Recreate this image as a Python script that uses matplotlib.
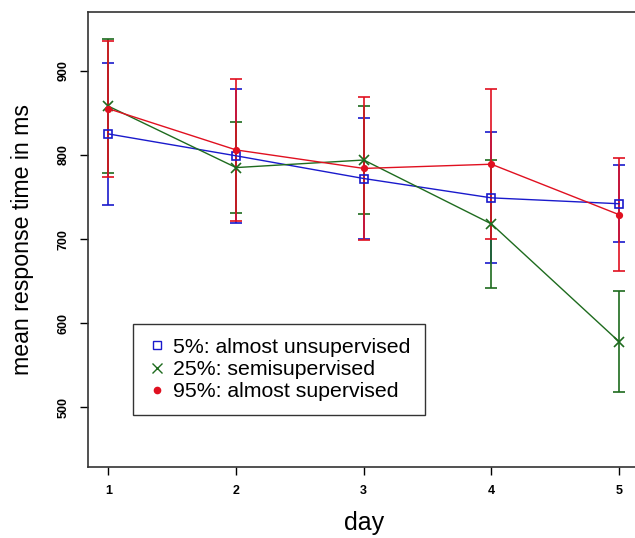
import matplotlib
matplotlib.use("Agg")
import matplotlib.pyplot as plt
from matplotlib.lines import Line2D

plt.rcParams['font.family'] = ['Liberation Sans', 'DejaVu Sans']

# dias e medias (ms) por grupo
days = [1, 2, 3, 4, 5]
labels = ["5%: almost unsupervised", "25%: semisupervised", "95%: almost supervised"]

mean_5 = [825, 799, 772, 749, 742]
err_5 = [84, 80, 72, 78, 46]

mean_25 = [858, 785, 794, 718, 578]
err_25 = [80, 54, 64, 76, 60]

mean_95 = [855, 806, 784, 789, 729]
err_95 = [81, 84, 85, 89, 67]

fig = plt.figure(figsize=(6.35, 5.38), dpi=100)
ax = fig.add_axes([0.1386, 0.132, 0.8685, 0.8457])

series = [
    (mean_5, err_5, "#1a1acc", "s", "none", 6),
    (mean_25, err_25, "#1e6b1e", "x", "#1e6b1e", 7),
    (mean_95, err_95, "#e01020", "o", "#e01020", 4),
]

for m, e, c, mk, fc, ms in series:
    ax.errorbar(days, m, yerr=e, color=c, lw=1, elinewidth=1.2, capsize=4.5,
                capthick=1.2, marker=mk, markersize=ms, markerfacecolor=fc,
                markeredgecolor=c, markeredgewidth=1.2)

ax.set_xlim(0.84, 5.16)
ax.set_ylim(429, 970)
ax.set_xticks(days)
ax.set_yticks([500, 600, 700, 800, 900])
for lab in ax.get_yticklabels():
    lab.set_rotation(90)
    lab.set_va("center")
ax.tick_params(direction="out", length=6, width=1, labelsize=9, pad=7)
for lab in ax.get_xticklabels() + ax.get_yticklabels():
    lab.set_fontweight("bold")
for sp in ax.spines.values():
    sp.set_linewidth(1.2)
    sp.set_color("#333333")

ax.set_xlabel("day", fontsize=18, labelpad=10)
ax.set_ylabel("mean response time in ms", fontsize=16.7, labelpad=17)

handles = [
    Line2D([], [], ls="none", marker="s", markersize=6, markerfacecolor="none",
           markeredgecolor="#1a1acc"),
    Line2D([], [], ls="none", marker="x", markersize=7, markeredgecolor="#1e6b1e"),
    Line2D([], [], ls="none", marker="o", markersize=4.5, color="#e01020"),
]
leg = ax.legend(handles, labels, loc="lower left", bbox_to_anchor=(0.0816, 0.114),
                borderaxespad=0, fontsize=15.3, frameon=True, fancybox=False,
                handlelength=1, handletextpad=0.25, labelspacing=0.15,
                borderpad=0.65)
leg.get_frame().set_edgecolor("black")
leg.get_frame().set_linewidth(1)

fig.savefig("out.png", dpi=100)
